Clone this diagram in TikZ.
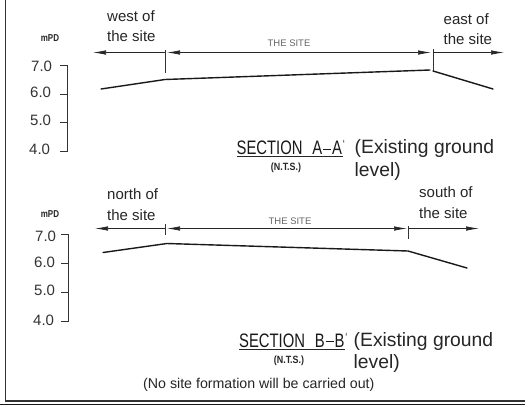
\documentclass[tikz,border=0pt]{standalone}
\usepackage{fontspec}
\setmainfont{Liberation Sans}
\usetikzlibrary{arrows.meta}
\tikzset{
 x=1pt,y=-1pt,
 lab/.style={inner sep=0pt,anchor=base west,font=\fontsize{15}{15}\selectfont,text=black!85},
 big/.style={inner sep=0pt,anchor=base west,font=\fontsize{19.3}{19.3}\selectfont,text=black!85},
 tickno/.style={inner sep=0pt,anchor=base west,font=\fontsize{15}{15}\selectfont,text=black!80},
 small/.style={inner sep=0pt,font=\bfseries\fontsize{10}{10}\selectfont,xscale=.8,text=black!85},
 ntslab/.style={inner sep=0pt,font=\bfseries\fontsize{10.5}{10.5}\selectfont,xscale=.85,text=black!85},
 sitelab/.style={inner sep=0pt,font=\fontsize{9.5}{9.5}\selectfont,text=black!60},
 sec/.style={inner sep=0pt,anchor=base west,font=\fontsize{19.5}{19.5}\selectfont,xscale=.76,text=black!90},
 dimline/.style={line width=.7pt,black!85,-{Latex[length=13pt,width=4.5pt]}},
 ground/.style={line width=1.4pt,black!90,line cap=round},
 axisline/.style={line width=.8pt,black!80},
}
\newcommand{\secname}[1]{SECTION\hspace{13pt}#1\kern1pt\rule[5pt]{11pt}{1pt}\kern1pt#1\rlap{\kern1pt\raisebox{6pt}{\fontsize{12}{12}\selectfont`}}}
\begin{document}
\begin{tikzpicture}
\useasboundingbox (0,0) rectangle (525,405);
\fill[white] (0,0) rectangle (525,405);
% frame
\coordinate (fa) at (5.7,0); \coordinate (fb) at (5.7,401); \coordinate (fc) at (525,401);
\draw[line width=1.4pt,black!80] (fa) -- (fb) -- (fc);
\fill[black!90] (0,403.5) rectangle (525,405);
% section A
\node[small] (mA) at (50,38) {mPD};
\node[tickno] (a7) at (31,71) {7.0};
\node[tickno] (a6) at (30,97) {6.0};
\node[tickno] (a5) at (30,125) {5.0};
\node[tickno] (a4) at (29,154) {4.0};
\coordinate (as0) at (60,65);\coordinate (as1) at (67,65);\coordinate (as2) at (67,151);\coordinate (as3) at (60,151);
\draw[axisline] (as0) -- (as1) -- (as2) -- (as3);
\draw[axisline] (60,94) -- (67,94) (60,122) -- (67,122);
\node[lab] (w1) at (107,21) {west of};
\node[lab] (w2) at (107,41) {the site};
\node[lab] (e1) at (443.5,24) {east of};
\node[lab] (e2) at (443.5,44) {the site};
\node[sitelab] (sA) at (289,43) {THE SITE};
\coordinate (at1) at (165,50);\coordinate (at2) at (165,73);
\coordinate (ab1) at (433,49);\coordinate (ab2) at (433,72);
\draw[axisline] (at1) -- (at2);
\draw[line width=.9pt,black!80] (ab1) -- (ab2);
\coordinate (aL) at (165,52.5);\coordinate (aLe) at (93,52.5);
\coordinate (aR) at (433,52.5);\coordinate (aRe) at (504,52.5);
\coordinate (aM) at (320,52.5);\coordinate (aMl) at (167,52.5);\coordinate (aMr) at (431,52.5);
\draw[dimline] (aL) -- (aLe);
\draw[dimline] (aR) -- (aRe);
\draw[dimline] (aM) -- (aMl);
\draw[dimline] (aM) -- (aMr);
\coordinate (g1) at (101,89);\coordinate (g2) at (165,79.5);\coordinate (g3) at (430,70);\coordinate (g4) at (433,71);\coordinate (g5) at (493,89);
\draw[ground] (g1) -- (g2) -- (g3);
\draw[ground] (g4) -- (g5);
\node[sec] (tA) at (236.5,154.5) {\secname{A}};
\coordinate (ua1) at (236.5,156);\coordinate (ua2) at (342.5,156);
\draw[line width=.8pt,black!85] (ua1) -- (ua2);
\node[ntslab] (nA) at (286,168) {(N.T.S.)};
\node[big] (xA) at (354.5,153.5) {(Existing ground};
\node[big] (xA2) at (354.5,176) {level)};
% section B
\node[small] (mB) at (50,214) {mPD};
\node[lab] (n1) at (107,199) {north of};
\node[lab] (n2) at (107,220) {the site};
\node[lab] (s1) at (419,197.5) {south of};
\node[lab] (s2) at (419,218) {the site};
\node[tickno] (b7) at (35,241) {7.0};
\node[tickno] (b6) at (34,267) {6.0};
\node[tickno] (b5) at (34,295) {5.0};
\node[tickno] (b4) at (33,325) {4.0};
\coordinate (bs0) at (61,234.5);\coordinate (bs1) at (68,234.5);\coordinate (bs2) at (68,321);\coordinate (bs3) at (61,321);
\draw[axisline] (bs0) -- (bs1) -- (bs2) -- (bs3);
\draw[axisline] (61,263) -- (68,263) (61,292) -- (68,292);
\node[sitelab] (sB) at (290,221) {THE SITE};
\coordinate (bt1) at (165,224);\coordinate (bt2) at (165,235);
\coordinate (bb1) at (408,226);\coordinate (bb2) at (408,239);
\draw[axisline] (bt1) -- (bt2);
\draw[axisline] (bb1) -- (bb2);
\coordinate (bL) at (165,228.5);\coordinate (bLe) at (95,228.5);
\coordinate (bR) at (408,228.5);\coordinate (bRe) at (479,228.5);
\coordinate (bM) at (320,228.5);\coordinate (bMl) at (167,228.5);\coordinate (bMr) at (407,228.5);
\draw[dimline] (bL) -- (bLe);
\draw[dimline] (bR) -- (bRe);
\draw[dimline] (bM) -- (bMl);
\draw[dimline] (bM) -- (bMr);
\coordinate (h1) at (103,252.5);\coordinate (h2) at (167,243.5);\coordinate (h3) at (408,251);\coordinate (h4) at (467,268);
\draw[ground] (h1) -- (h2) -- (h3) -- (h4);
\node[sec] (tB) at (239,347) {\secname{B}};
\coordinate (ub1) at (239,349.5);\coordinate (ub2) at (345,349.5);
\draw[line width=.8pt,black!85] (ub1) -- (ub2);
\node[ntslab] (nB) at (289,360.5) {(N.T.S.)};
\node[big] (xB) at (353.5,346.7) {(Existing ground};
\node[big] (xB2) at (353.5,368.5) {level)};
\node[lab,font=\fontsize{14.2}{14.2}\selectfont] (nf) at (143,388.5) {(No site formation will be carried out)};
\end{tikzpicture}
\end{document}
